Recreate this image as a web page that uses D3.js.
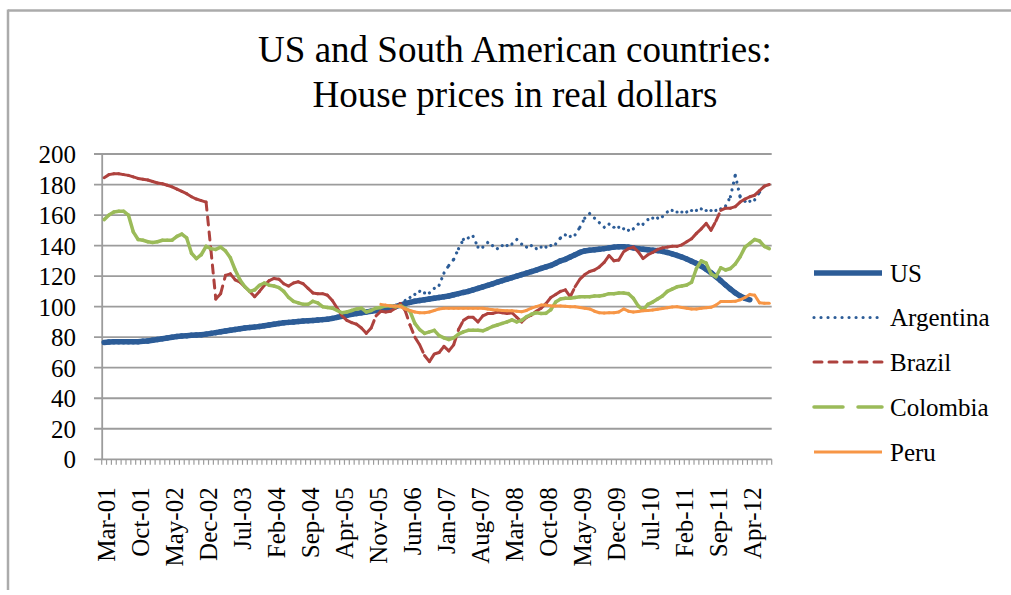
<!DOCTYPE html>
<html>
<head>
<meta charset="utf-8">
<script src="https://cdn.jsdelivr.net/npm/d3@7"></script>
<style>
body{margin:0;background:#fff;}
text{font-family:"Times New Roman","Liberation Serif",serif;fill:#000;}
</style>
</head>
<body>
<script>
// monthly categories, Mar-01 .. Aug-12
var monthNames = ["Jan","Feb","Mar","Apr","May","Jun","Jul","Aug","Sep","Oct","Nov","Dec"];
var categories = [];
for(var i = 0; i < 138; i++){
	var m = (2 + i) % 12;
	var yr = 1 + Math.floor((2 + i) / 12);
	categories.push(monthNames[m] + "-" + (yr < 10 ? "0" + yr : yr));
}

var tickLabels = ["Mar-01","Oct-01","May-02","Dec-02","Jul-03","Feb-04","Sep-04","Apr-05","Nov-05","Jun-06",
	"Jan-07","Aug-07","Mar-08","Oct-08","May-09","Dec-09","Jul-10","Feb-11","Sep-11","Apr-12"];
var yTicks = [0,20,40,60,80,100,120,140,160,180,200];

var seriesNames = ["US","Argentina","Brazil","Colombia","Peru"];
// first month of each series (index into categories)
var seriesStart = {"US":0, "Argentina":60, "Brazil":0, "Colombia":0, "Peru":57};

var us = [76.5,76.8,77,77,77,77,77,77,77.3,77.5,78,78.5,79,79.5,80,80.5,80.8,81,81.2,81.4,
	81.6,82,82.5,83,83.5,84,84.5,85,85.5,86,86.3,86.6,87,87.5,88,88.5,89,89.4,89.7,90,
	90.3,90.6,90.8,91,91.2,91.5,91.8,92.3,93,93.7,94.3,95,95.5,96,96.5,97,97.5,98,98.7,99.3,
	100,101,102,102.8,103.5,104,104.5,105,105.5,106,106.5,107,107.8,108.5,109.3,110,111,112,113,114,
	115,116,117,118,119,120,121,122,123,124,125,126,127,128.5,130,131,132.5,134,135.5,136.5,
	137,137.3,137.6,138,138.5,139,139.3,139.3,139,138.5,138,137.6,137.3,137,136.7,136.2,135.5,134.6,133.6,132.5,
	131.2,129.8,128.3,126.5,124.5,122.2,119.7,117,114.2,111.5,109,107,105.5,104.5];

var argentina = [100,102,104,106,108,110,109,109,112,114,122,127,131,138,144,145,146,139,139,142,
	140,138,140,140,141,144,141,139,140,138,139,139,140,141,145,147,146,147,152,158,
	161,158,155,152,154,152,152,151,150,151,154,154,157,158,158,159,162,163,162,162,
	162,163,163,164,163,163,163,164,166,172,186,172,169,169,170,175,179];

var brazil = [184.5,186.5,187,187,186.5,186,185,184,183.5,183,182,181,180.5,179.5,178.5,177,175.5,174,172,170.5,
	169.5,168.5,137,105,108.5,120.5,121.5,117.5,116,113,110,106.5,110,114,117,118.5,118,115,113.5,115.5,
	116.3,115,112,109,108.5,108.5,107.5,104,99,94,91,89.5,88.5,86,82.5,86,94,97,96.5,97,
	99,102,97.5,88,80,75,68,64,69,70,74,71,75,85,91,93,93,90,94,95.5,
	95.5,96.5,96,95.5,96,93,90,93,94.5,97,99,102,106,108,110,111,106.5,113,118,121,
	123,124,126,129,133.5,130,130.5,136,138,139,136,131.5,134,135.5,137.5,138.5,139,139.5,139.5,140.5,
	142.5,144.5,148,151,154.5,150,156,163,164.5,164.5,165.5,168.5,170.5,172,173,176,179,180];

var colombia = [157,160,162,162.5,162.5,160,149,144,143.5,142.5,142,142.5,143.5,143.5,143.5,146,147.5,145,135,131.5,
	134,139.5,138,137.5,139,136.5,132,124,117.5,113,110,111,114,115.5,114,113.5,112.5,110,106,103.5,
	102.5,101.5,101.5,103.5,102.5,100,99.5,99,97.5,96,96.5,97.5,98.5,99,96.5,97.5,99,99.5,100.5,100.5,
	100,100.5,99,97,89,85,82.5,83.5,84.5,81,79.5,78.5,79.5,82,83.5,84.5,84.5,84.5,84.2,85.5,
	87,88,89,90,91.3,90,91,93.4,95,96,95.5,95.6,98,103,105,105.5,105.5,106,106.5,106.5,
	106.5,107,107,107.5,108.5,108.5,109,109,108.5,105.5,100.5,97.8,101.5,103,105,107,110,111.5,113,113.5,
	114.2,116,125,130,128.5,121.5,119.6,125.5,124,125,128,132.7,139,141.5,144,143,139.5,138];

var peru = [101.5,101,100.5,100.5,100,98.5,97.5,96.5,96,96,96.5,97.5,98.5,99,99,99,99,99,99,99,
	99,99,98.5,98,97.8,97.5,97.3,97.3,97,96.7,97.5,99,100,101,101,100.5,100.4,100.5,100.2,100,
	100,99.5,99,98.5,97,96,95.8,96,96,96.5,98.5,97,96.5,96.8,97.3,97.5,97.8,98.3,98.8,99.3,
	99.8,100,99.5,99,98.5,98.5,99,99.3,99.6,101,103.3,103.3,103.3,103.5,104.5,106,108,107.5,102.5,102.2,
	102.2];

var seriesValues = {"US":us, "Argentina":argentina, "Brazil":brazil, "Colombia":colombia, "Peru":peru};

var styles = {
	"US":        {color:"#2c5c97", width:5.5, dash:null,      cap:"round"},
	"Argentina": {color:"#2c5c97", width:3.2, dash:"0.01,7",  cap:"round"},
	"Brazil":    {color:"#ae423e", width:3,   dash:"8,7",     cap:"round"},
	"Colombia":  {color:"#9bbb59", width:3.5, dash:"29,15",   cap:"round"},
	"Peru":      {color:"#f79646", width:3,   dash:null,      cap:"round"}
};

var svg = d3.select("body").append("svg")
	.attr("width", 1011)
	.attr("height", 595)
	.attr("xmlns", "http://www.w3.org/2000/svg");

// chart frame (only top and left edges are inside the picture)
svg.append("line").attr("x1", 8).attr("x2", 1011).attr("y1", 10.5).attr("y2", 10.5)
	.attr("stroke", "#ababab").attr("stroke-width", 2.5);
svg.append("line").attr("x1", 8).attr("x2", 8).attr("y1", 9.5).attr("y2", 590)
	.attr("stroke", "#ababab").attr("stroke-width", 2.5);

// title
svg.append("text").attr("x", 515).attr("y", 62).attr("text-anchor", "middle")
	.style("font-size", "37px").text("US and South American countries:");
svg.append("text").attr("x", 515).attr("y", 107).attr("text-anchor", "middle")
	.style("font-size", "37px").text("House prices in real dollars");

var plotLeft = 101.7, plotRight = 771.7, plotTop = 154, plotBottom = 459.3;

var x = d3.scaleBand().domain(categories).range([plotLeft, plotRight]).paddingInner(0).paddingOuter(0);
var y = d3.scaleLinear().domain([0, 200]).range([plotBottom, plotTop]);
var xc = function(i){ return x(categories[i]) + x.bandwidth() / 2; };

// gridlines
svg.append("g").selectAll("line").data(yTicks).enter().append("line")
	.attr("x1", plotLeft - 7.7)
	.attr("x2", plotRight)
	.attr("y1", function(d){ return y(d); })
	.attr("y2", function(d){ return y(d); })
	.attr("stroke", "#9c9c9c")
	.attr("stroke-width", 1.8);

// y axis
var yAxis = svg.append("g")
	.attr("transform", "translate(" + plotLeft + ",0)")
	.call(d3.axisLeft(y).tickValues(yTicks).tickSize(0).tickPadding(25.7).tickSizeOuter(0));
yAxis.select(".domain").attr("stroke", "#9c9c9c").attr("stroke-width", 1.8);
yAxis.selectAll("text").style("font-size", "25px").style("font-family", "'Times New Roman','Liberation Serif',serif")
	.attr("dy", "0.34em");

// x axis with a small tick at each month boundary
var bounds = [];
for(var i = 0; i <= categories.length; i++){ bounds.push(i); }
svg.append("g").selectAll("line").data(bounds).enter().append("line")
	.attr("x1", function(d){ return plotLeft + d * x.bandwidth(); })
	.attr("x2", function(d){ return plotLeft + d * x.bandwidth(); })
	.attr("y1", plotBottom)
	.attr("y2", plotBottom + 5.5)
	.attr("stroke", "#9c9c9c")
	.attr("stroke-width", 1.2);

var xAxis = svg.append("g")
	.attr("transform", "translate(0," + plotBottom + ")")
	.call(d3.axisBottom(x).tickValues(tickLabels).tickSize(0).tickSizeOuter(0));
xAxis.select(".domain").remove();
xAxis.selectAll("text")
	.attr("transform", "rotate(-90)")
	.attr("x", -28)
	.attr("y", 2.5)
	.attr("dy", "0.35em")
	.style("text-anchor", "end")
	.style("font-size", "25px")
	.style("font-family", "'Times New Roman','Liberation Serif',serif");

// series: each month-to-month step is its own segment, so dash patterns restart like Excel
var plot = svg.append("g");
for(var s = 0; s < seriesNames.length; s++){
	var name = seriesNames[s];
	var vals = seriesValues[name];
	var start = seriesStart[name];
	var st = styles[name];
	var segs = [];
	for(var i = 0; i < vals.length - 1; i++){
		if(vals[i] == null || vals[i + 1] == null) continue;
		segs.push([start + i, vals[i], start + i + 1, vals[i + 1]]);
	}
	plot.append("g").selectAll("line").data(segs).enter().append("line")
		.attr("x1", function(d){ return xc(d[0]); })
		.attr("y1", function(d){ return y(d[1]); })
		.attr("x2", function(d){ return xc(d[2]); })
		.attr("y2", function(d){ return y(d[3]); })
		.attr("stroke", st.color)
		.attr("stroke-width", st.width)
		.attr("stroke-linecap", st.cap)
		.attr("stroke-dasharray", st.dash);
}

// legend
var legendY = [273, 317.5, 362, 407, 452];
for(var s = 0; s < seriesNames.length; s++){
	var st = styles[seriesNames[s]];
	svg.append("line")
		.attr("x1", 814).attr("x2", 882)
		.attr("y1", legendY[s]).attr("y2", legendY[s])
		.attr("stroke", st.color)
		.attr("stroke-width", st.width)
		.attr("stroke-linecap", st.dash ? "round" : "butt")
		.attr("stroke-dasharray", st.dash);
	svg.append("text")
		.attr("x", 890)
		.attr("y", legendY[s])
		.attr("dy", ".35em")
		.style("font-size", "25px")
		.text(seriesNames[s]);
}
</script>
</body>
</html>
